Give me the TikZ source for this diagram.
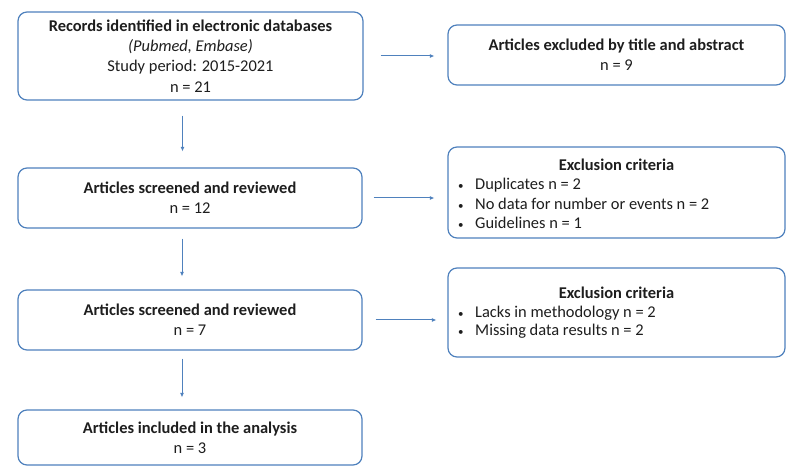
\documentclass[tikz,border=0pt]{standalone}
\usepackage{fontspec}
\setmainfont{Carlito}
\usetikzlibrary{arrows.meta,calc}
\definecolor{bbl}{RGB}{79,129,189}
\definecolor{txt}{RGB}{30,30,30}
\newcommand{\mybul}{\makebox[18bp][l]{\hspace{1bp}{\fontsize{11}{11}\selectfont\textbullet}}}
\begin{document}
\begin{tikzpicture}[x=1bp,y=-1bp,
 box/.style={draw=bbl,line width=1.2bp,rounded corners=9bp,fill=white,inner sep=0pt,align=center,font=\fontsize{16.5}{20.5}\selectfont,text=txt},
 arr/.style={draw=bbl,line width=1bp,-{Latex[length=4.5bp,width=4bp]}},
 lbl/.style={font=\fontsize{16.5}{20}\selectfont,text=txt,inner sep=0pt}]
\useasboundingbox (0,0) rectangle (786,466);
\node[box,minimum width=345bp,minimum height=88bp] (b1) at (190.5,56) {\textbf{Records identified in electronic databases}\\\textit{(Pubmed, Embase)}\\Study period: 2015-2021\\n = 21};
\node[box,minimum width=337bp,minimum height=60bp] (b2) at (616.5,55) {\textbf{Articles excluded by title and abstract}\\n = 9};
\node[box,minimum width=344bp,minimum height=60bp] (b3) at (190,198) {\textbf{Articles screened and reviewed}\\n = 12};
\node[box,minimum width=337bp,minimum height=91bp] (b4) at (616.5,192.5) {};
\node[box,minimum width=344bp,minimum height=60bp] (b5) at (190,320) {\textbf{Articles screened and reviewed}\\n = 7};
\node[box,minimum width=337bp,minimum height=89bp] (b6) at (616.5,312.5) {};
\node[box,minimum width=344bp,minimum height=55bp] (b7) at (190,437.5) {\textbf{Articles included in the analysis}\\n = 3};
% texts inside exclusion boxes
\node[lbl] (b4t) at (616.5,165) {\textbf{Exclusion criteria}};
\node[lbl,anchor=west] (b4a) at (457,185) {\mybul Duplicates n = 2};
\node[lbl,anchor=west] (b4b) at (457,204) {\mybul No data for number or events n = 2};
\node[lbl,anchor=west] (b4c) at (457,223) {\mybul Guidelines n = 1};
\node[lbl] (b6t) at (616.5,293) {\textbf{Exclusion criteria}};
\node[lbl,anchor=west] (b6a) at (457,313) {\mybul Lacks in methodology n = 2};
\node[lbl,anchor=west] (b6b) at (457,331) {\mybul Missing data results n = 2};
% arrows
\draw[arr,shorten <=17bp,shorten >=13bp] (b1.east) -- (b1.east -| b2.west);
\draw[arr,shorten <=15bp,shorten >=16bp] ([xshift=-8bp]b1.south) -- ([xshift=-8bp]b1.south |- b3.north);
\draw[arr,shorten <=11bp,shorten >=13bp] (b3.east) -- (b3.east -| b4.west);
\draw[arr,shorten <=10bp,shorten >=13bp] ([xshift=-8bp]b3.south) -- ([xshift=-8bp]b3.south |- b5.north);
\draw[arr,shorten <=13bp,shorten >=11bp] (b5.east) -- (b5.east -| b6.west);
\draw[arr,shorten <=8bp,shorten >=12bp] ([xshift=-8bp]b5.south) -- ([xshift=-8bp]b5.south |- b7.north);
\end{tikzpicture}
\end{document}
